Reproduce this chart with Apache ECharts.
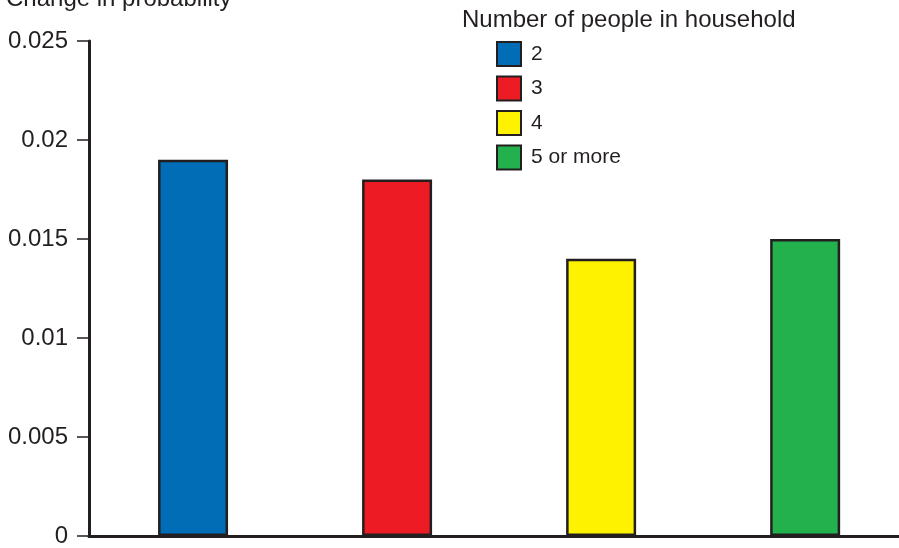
<!DOCTYPE html>
<html>
<head>
<meta charset="utf-8">
<script src="https://cdn.jsdelivr.net/npm/echarts@6/dist/echarts.min.js"></script>
<style>
  html, body { margin: 0; padding: 0; background: #fff; }
  #chart { width: 899px; height: 548px; }
</style>
</head>
<body>
<div id="chart"></div>
<script>
var groups = ['2', '3', '4', '5 or more'];
var positions = [0, 1, 2, 3];
var values = [0.019, 0.018, 0.014, 0.015];
var colors = ['#006db6', '#ed1c24', '#fff200', '#22b14c'];
var yTicks = [0, 0.005, 0.01, 0.015, 0.02, 0.025];

var chart = echarts.init(document.getElementById('chart'), null, { renderer: 'canvas' });

// one series per group so the legend lists each household size
var series = groups.map(function (g, i) {
  return {
    name: g,
    type: 'bar',
    stack: 'all',
    barWidth: 70,
    data: [[positions[i], values[i]]],
    itemStyle: { color: colors[i], borderColor: '#231f20', borderWidth: 2.5 }
  };
});

var option = {
  animation: false,
  textStyle: { fontFamily: 'Liberation Sans' },
  legend: {
    orient: 'vertical',
    left: 496, top: 41, padding: 0,
    itemWidth: 24, itemHeight: 24, itemGap: 8.5,
    icon: 'rect',
    textStyle: { fontSize: 21, color: '#231f20', padding: [0, 0, 0, 5] },
    data: groups
  },
  graphic: [{
    type: 'text', left: 6, top: -13,
    style: { text: 'Change in probability', fontSize: 24, fill: '#231f20', fontFamily: 'Liberation Sans' }
  }, {
    type: 'text', left: 462, top: 8,
    style: { text: 'Number of people in household', fontSize: 24, fill: '#231f20', fontFamily: 'Liberation Sans' }
  }],
  grid: { left: 89, top: 41, right: 0, bottom: 8 },
  xAxis: {
    type: 'value',
    min: -0.51, max: 3.46,
    axisLine: { show: true, onZero: false, lineStyle: { color: '#231f20', width: 3 } },
    axisTick: { show: false },
    axisLabel: { show: false },
    splitLine: { show: false }
  },
  yAxis: {
    type: 'value',
    min: yTicks[0], max: yTicks[yTicks.length - 1], interval: 0.005,
    axisLine: { show: true, onZero: false, lineStyle: { color: '#231f20', width: 3 } },
    axisTick: { show: true, length: 12, lineStyle: { color: '#231f20', width: 1.5 } },
    axisLabel: {
      fontSize: 24, color: '#231f20', margin: 21,
      formatter: function (v) { return String(Math.round(v * 1000) / 1000); }
    },
    splitLine: { show: false }
  },
  series: series
};

chart.setOption(option);
window.addEventListener('resize', chart.resize);
</script>
</body>
</html>
